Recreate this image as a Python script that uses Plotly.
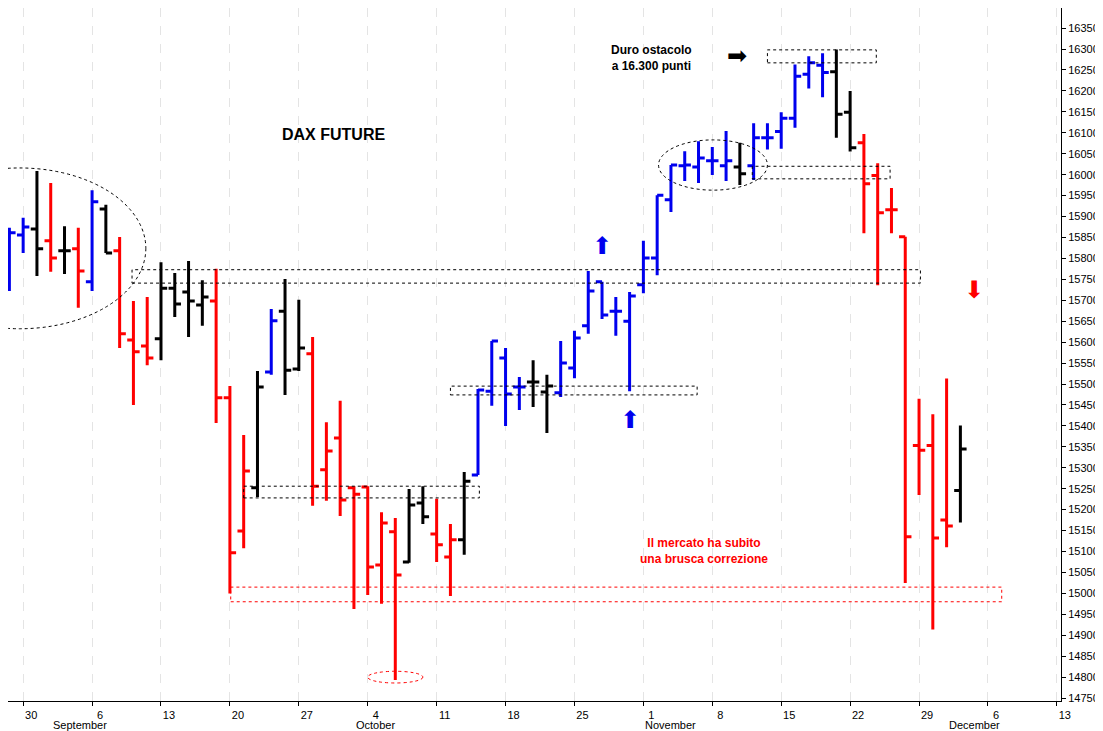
import plotly.graph_objects as go
import pandas as pd

start_day = "2021-08-27"
opens = [15741, 15856, 15870, 15842, 15818, 15823, 15744, 15918, 15818, 15605,
         15591, 15608, 15729, 15720, 15689, 15698, 15467, 15149, 15252, 15529,
         15674, 15536, 15572, 15295, 15371, 15252, 15254, 15068, 15147, 15075,
         15216, 15142, 15087, 15128, 15283, 15483, 15562, 15493, 15505, 15481,
         15479, 15538, 15639, 15744, 15674, 15650, 15737, 15801, 15940, 16021,
         16018, 16033, 16021, 16018, 16021, 16088, 16103, 16135, 16240, 16261,
         16246, 16149, 16076, 15998, 15916, 15852, 15353, 15353, 15175, 15246]
highs = [15873, 15897, 16009, 15980, 15877, 15873, 15963, 15928, 15851, 15698,
         15708, 15791, 15765, 15794, 15748, 15775, 15495, 15378, 15531, 15679,
         15751, 15701, 15612, 15409, 15460, 15256, 15256, 15194, 15180, 15249,
         15256, 15226, 15166, 15290, 15488, 15603, 15586, 15517, 15557, 15522,
         15603, 15627, 15770, 15744, 15708, 15720, 15842, 15951, 16023, 16056,
         16080, 16066, 16104, 16076, 16123, 16123, 16149, 16263, 16283, 16290,
         16299, 16200, 16097, 16027, 15968, 15852, 15465, 15428, 15513, 15401]
lows = [15722, 15813, 15758, 15768, 15763, 15682, 15722, 15813, 15586, 15450,
        15545, 15557, 15660, 15612, 15639, 15407, 15000, 15108, 15230, 15522,
        15474, 15531, 15209, 15221, 15185, 14963, 14996, 14975, 14793, 15073,
        15166, 15075, 14994, 15092, 15283, 15448, 15400, 15438, 15445, 15383,
        15469, 15514, 15620, 15655, 15615, 15483, 15717, 15760, 15911, 15985,
        15980, 15999, 15985, 15975, 15987, 16060, 16062, 16112, 16206, 16185,
        16088, 16055, 15860, 15736, 15860, 15025, 15235, 14914, 15110, 15169]
closes = [15861, 15875, 15823, 15801, 15818, 15770, 15935, 15813, 15620, 15577,
          15562, 15729, 15691, 15698, 15708, 15467, 15097, 15292, 15493, 15651,
          15533, 15586, 15256, 15340, 15223, 15237, 15063, 15168, 15044, 15211,
          15183, 15116, 15128, 15268, 15486, 15603, 15476, 15493, 15505, 15495,
          15550, 15610, 15722, 15665, 15674, 15710, 15801, 15951, 16023, 16023,
          16040, 16033, 16033, 16002, 16088, 16088, 16135, 16235, 16267, 16244,
          16144, 16064, 15978, 15909, 15916, 15135, 15342, 15132, 15161, 15345]
trend = (["up", "up", "flat", "down", "flat", "down", "up", "flat", "down", "down",
          "down", "flat", "flat", "flat", "flat", "down", "down", "down", "flat", "up",
          "flat", "flat", "down", "down", "down", "down", "down", "down", "down", "flat",
          "flat", "down", "down", "flat", "up", "up", "up", "up", "flat", "flat"]
         + ["up"] * 13 + ["flat"] + ["up"] * 6 + ["flat", "flat"] + ["down"] * 7 + ["flat"])
day_ticks = ["2021-08-30", "2021-09-06", "2021-09-13", "2021-09-20", "2021-09-27",
             "2021-10-04", "2021-10-11", "2021-10-18", "2021-10-25", "2021-11-01",
             "2021-11-08", "2021-11-15", "2021-11-22", "2021-11-29", "2021-12-06",
             "2021-12-13"]
months = [("September", "2021-09-01"), ("October", "2021-10-01"),
          ("November", "2021-11-01"), ("December", "2021-12-01")]

days = pd.bdate_range("2021-08-02", periods=130)
base = list(days).index(pd.Timestamp(start_day))
dates = days[base:base + len(opens)]


def tpos(t):
    # trading-day position -> datetime on the broken axis
    i = int(t // 1)
    return days[base + i] + pd.Timedelta(hours=24 * (t - i))


colors = {"up": "#0000ee", "flat": "black", "down": "#ff0000"}
fig = go.Figure()
for k, c in colors.items():
    idx = [i for i, v in enumerate(trend) if v == k]
    fig.add_trace(go.Ohlc(
        x=[dates[i] for i in idx], open=[opens[i] for i in idx],
        high=[highs[i] for i in idx], low=[lows[i] for i in idx],
        close=[closes[i] for i in idx], tickwidth=0.45,
        increasing_line=dict(color=c, width=3), decreasing_line=dict(color=c, width=3),
        hoverinfo="skip", showlegend=False))

boxes = [(8.9, 66.1, 15741, 15773, "black"), (17.0, 34.1, 15228, 15256, "black"),
         (32.0, 49.9, 15474, 15495, "black"), (53.9, 63.9, 15990, 16020, "black"),
         (55.0, 62.9, 16267, 16298, "black"), (16.06, 72.0, 14980, 15015, "#ff0000")]
for x0, x1, y0, y1, c in boxes:
    fig.add_shape(type="rect", x0=tpos(x0), x1=tpos(x1), y0=y0, y1=y1,
                  line=dict(color=c, width=1, dash="dot"))
ellipses = [(-6.4, 9.9, 15632, 16016, "black"), (26.0, 30.0, 14786, 14814, "#ff0000"),
            (47.1, 55.0, 15963, 16083, "black")]
for x0, x1, y0, y1, c in ellipses:
    fig.add_shape(type="circle", x0=tpos(x0), x1=tpos(x1), y0=y0, y1=y1,
                  line=dict(color=c, width=1, dash="dot"))

anns = [(43.0, 15830, "⬆", "#0000ee"), (45.0, 15415, "⬆", "#0000ee"),
        (52.8, 16283, "➡", "black"), (70.0, 15725, "⬇", "#ff0000")]
for t, y, s, c in anns:
    fig.add_annotation(x=tpos(t), y=y, text=s, showarrow=False,
                       font=dict(color=c, size=24, family="DejaVu Sans"))
fig.add_annotation(x=tpos(23.5), y=16095, text="<b>DAX FUTURE</b>", showarrow=False,
                   font=dict(size=16, color="black"))
fig.add_annotation(x=tpos(46.6), y=16278, text="<b>Duro ostacolo<br>a 16.300 punti</b>",
                   showarrow=False, font=dict(size=12, color="black"))
fig.add_annotation(x=tpos(50.4), y=15101,
                   text="<b>Il mercato ha subito<br>una brusca correzione</b>",
                   showarrow=False, font=dict(size=12, color="#ff0000"))
for name, d in months:
    fig.add_annotation(x=d, y=0, yref="paper", text=name, showarrow=False,
                       xanchor="left", yanchor="top", yshift=-16,
                       font=dict(size=11, color="black"))

fig.update_layout(
    width=1103, height=731, margin=dict(l=0, r=50, t=0, b=38),
    plot_bgcolor="white", paper_bgcolor="white",
    font=dict(family="Arial, Liberation Sans", size=11, color="black"),
    xaxis=dict(rangeslider=dict(visible=False), rangebreaks=[dict(bounds=["sat", "mon"])],
               range=[tpos(-0.1), tpos(76.3)], tickvals=day_ticks,
               ticktext=[d[-2:].lstrip("0") for d in day_ticks], ticklabelshift=8,
               showgrid=True, gridcolor="#e4e4e4", griddash="dash", gridwidth=1,
               showline=True, linecolor="black", ticks="outside", ticklen=4,
               tickcolor="black"),
    yaxis=dict(side="right", range=[14743, 16398], tickvals=list(range(14750, 16351, 50)),
               tickformat="d", showgrid=False, showline=True, linecolor="black",
               ticks="outside", ticklen=4, tickcolor="black"),
)
fig.write_html("out.html")
